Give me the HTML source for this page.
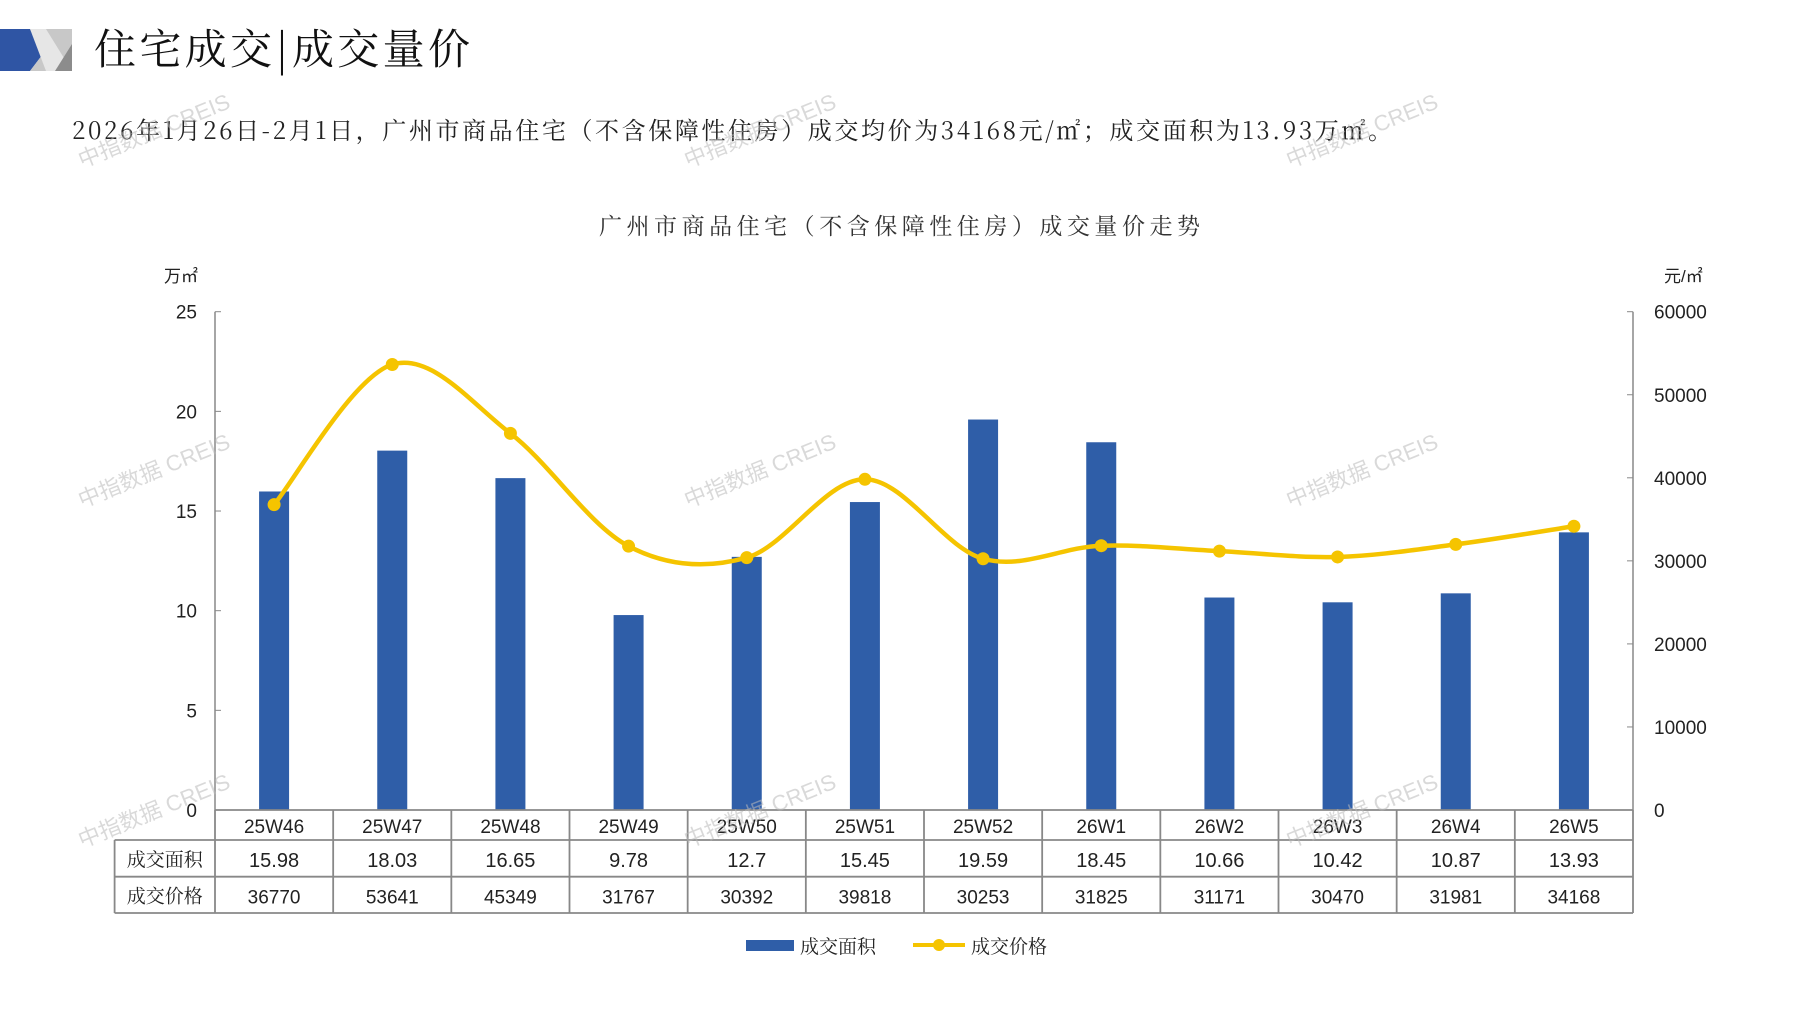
<!DOCTYPE html>
<html><head><meta charset="utf-8">
<style>
body{margin:0;background:#fff;}
svg text{font-family:"Liberation Sans","Noto Sans CJK SC",sans-serif;}
.cjk{font-family:"Noto Serif CJK SC","Noto Sans CJK SC",serif;}
</style></head>
<body>
<svg id="s" width="1797" height="1010" viewBox="0 0 1797 1010" xmlns="http://www.w3.org/2000/svg">
<rect width="1797" height="1010" fill="#fff"/>
<polygon points="0,29 30,29 46,50 30,71 0,71" fill="#2f55a4"/>
<polygon points="30,29 72,29 72,71 30,71 46,50" fill="#c8c8c8"/>
<polygon points="30,29 46,29 72,71 46,71" fill="#e6e6e6"/>
<polygon points="72,44 72,71 55,71" fill="#8c8c8c"/>
<text x="94" y="64" font-size="42" class="cjk" fill="#111" textLength="376" lengthAdjust="spacing">住宅成交|成交量价</text>
<text x="72" y="139" font-size="24" fill="#222" class="cjk" textLength="1320" lengthAdjust="spacing">2026年1月26日-2月1日，广州市商品住宅（不含保障性住房）成交均价为34168元/㎡；成交面积为13.93万㎡。</text>
<text x="599" y="234" font-size="23" class="cjk" fill="#333" textLength="601" lengthAdjust="spacing">广州市商品住宅（不含保障性住房）成交量价走势</text>
<text x="164" y="282" font-size="17" fill="#222">万㎡</text>
<text x="1664" y="282" font-size="17" fill="#222">元/㎡</text>
<g id="g"></g>
<g fill="#bbb" opacity="0.55" font-size="22">
<text transform="translate(82,168) rotate(-22)">中指数据 CREIS</text>
<text transform="translate(688,168) rotate(-22)">中指数据 CREIS</text>
<text transform="translate(1290,168) rotate(-22)">中指数据 CREIS</text>
<text transform="translate(82,508) rotate(-22)">中指数据 CREIS</text>
<text transform="translate(688,508) rotate(-22)">中指数据 CREIS</text>
<text transform="translate(1290,508) rotate(-22)">中指数据 CREIS</text>
<text transform="translate(82,848) rotate(-22)">中指数据 CREIS</text>
<text transform="translate(688,848) rotate(-22)">中指数据 CREIS</text>
<text transform="translate(1290,848) rotate(-22)">中指数据 CREIS</text>
</g>
<rect x="746" y="940" width="48" height="11" fill="#2f5ea8"/>
<text x="800" y="953" font-size="19" class="cjk" fill="#222">成交面积</text>
<line x1="913" y1="945" x2="965" y2="945" stroke="#f5c400" stroke-width="4"/>
<circle cx="939" cy="945" r="6" fill="#f5c400"/>
<text x="971" y="953" font-size="19" class="cjk" fill="#222">成交价格</text>
</svg>
<script>
const L=215,R=1633,T=311.7,B=810,W=(R-L)/12;
const cats=["25W46","25W47","25W48","25W49","25W50","25W51","25W52","26W1","26W2","26W3","26W4","26W5"];
const area=[15.98,18.03,16.65,9.78,12.7,15.45,19.59,18.45,10.66,10.42,10.87,13.93];
const areaT=["15.98","18.03","16.65","9.78","12.7","15.45","19.59","18.45","10.66","10.42","10.87","13.93"];
const price=[36770,53641,45349,31767,30392,39818,30253,31825,31171,30470,31981,34168];
let h='';
const ax='#888';
h+=`<line x1="${L}" y1="${T}" x2="${L}" y2="${B}" stroke="${ax}" stroke-width="1.5"/>`;
h+=`<line x1="${R}" y1="${T}" x2="${R}" y2="${B}" stroke="${ax}" stroke-width="1.5"/>`;
for(let i=0;i<=5;i++){const y=B-(B-T)*i/5;
 h+=`<line x1="${L}" y1="${y}" x2="${L+6}" y2="${y}" stroke="${ax}"/>`;
 h+=`<text x="${L-18}" y="${y+7}" font-size="19" text-anchor="end" fill="#222">${i*5}</text>`;}
for(let i=0;i<=6;i++){const y=B-(B-T)*i/6;
 h+=`<line x1="${R-6}" y1="${y}" x2="${R}" y2="${y}" stroke="${ax}"/>`;
 h+=`<text x="${R+21}" y="${y+7}" font-size="19" fill="#222">${i*10000}</text>`;}
const pts=[];
for(let i=0;i<12;i++){const cx=L+W*(i+0.5);
 const top=B-area[i]*(B-T)/25;
 h+=`<rect x="${cx-15}" y="${top}" width="30" height="${B-top}" fill="#2f5ea8"/>`;
 pts.push([cx,B-price[i]*(B-T)/60000]);}
let d=`M${pts[0][0]},${pts[0][1]}`;
for(let i=0;i<11;i++){const p0=pts[Math.max(i-1,0)],p1=pts[i],p2=pts[i+1],p3=pts[Math.min(i+2,11)];
 const c1=[p1[0]+(p2[0]-p0[0])/6,p1[1]+(p2[1]-p0[1])/6],c2=[p2[0]-(p3[0]-p1[0])/6,p2[1]-(p3[1]-p1[1])/6];
 d+=` C${c1[0]},${c1[1]} ${c2[0]},${c2[1]} ${p2[0]},${p2[1]}`;}
h+=`<path d="${d}" fill="none" stroke="#f5c400" stroke-width="4.5"/>`;
pts.forEach(p=>h+=`<circle cx="${p[0]}" cy="${p[1]}" r="6.5" fill="#f5c400"/>`);
const TL=114.6,r1=840,r2=876.7,r3=913;
h+=`<g stroke="${ax}" stroke-width="1.8" fill="none">`;
h+=`<line x1="${L}" y1="${B}" x2="${R}" y2="${B}"/>`;
h+=`<line x1="${TL}" y1="${r1}" x2="${R}" y2="${r1}"/>`;
h+=`<line x1="${TL}" y1="${r2}" x2="${R}" y2="${r2}"/>`;
h+=`<line x1="${TL}" y1="${r3}" x2="${R}" y2="${r3}"/>`;
h+=`<line x1="${TL}" y1="${r1}" x2="${TL}" y2="${r3}"/>`;
for(let i=0;i<=12;i++){const x=L+W*i;h+=`<line x1="${x}" y1="${B}" x2="${x}" y2="${r3}"/>`;}
h+=`</g>`;
h+=`<text x="${(TL+L)/2}" y="${r1+26}" font-size="19" text-anchor="middle" class="cjk" fill="#222">成交面积</text>`;
h+=`<text x="${(TL+L)/2}" y="${r2+26}" font-size="19" text-anchor="middle" class="cjk" fill="#222">成交价格</text>`;
for(let i=0;i<12;i++){const cx=L+W*(i+0.5);
 h+=`<text x="${cx}" y="${B+23}" font-size="19" text-anchor="middle" fill="#222">${cats[i]}</text>`;
 h+=`<text x="${cx}" y="${r1+27}" font-size="20" text-anchor="middle" fill="#222">${areaT[i]}</text>`;
 h+=`<text x="${cx}" y="${r2+27}" font-size="19" text-anchor="middle" fill="#222">${price[i]}</text>`;}
document.getElementById('g').innerHTML=h;
</script>
</body></html>
